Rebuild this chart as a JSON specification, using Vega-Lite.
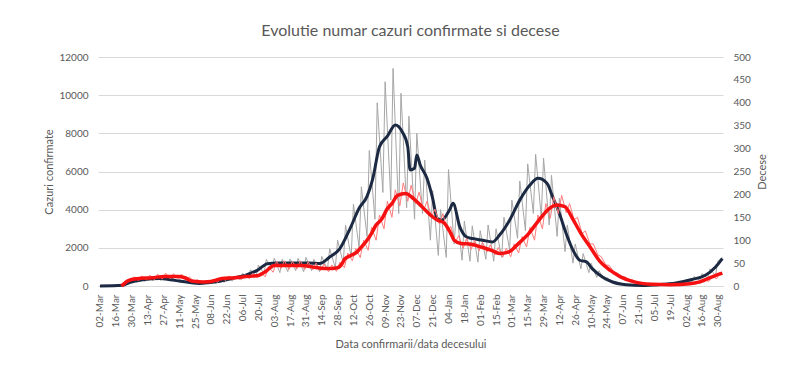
{
  "$schema": "https://vega.github.io/schema/vega-lite/v6.json",
  "width": 625,
  "height": 229,
  "autosize": {"type": "none"},
  "padding": {"left": 98, "top": 57, "right": 77, "bottom": 99},
  "background": "white",
  "title": {"text": "Evolutie numar cazuri confirmate si decese", "font": "Lato", "fontSize": 16, "fontWeight": "normal", "color": "#595959", "offset": 13},
  "config": {
    "view": {"stroke": null},
    "font": "Lato",
    "axis": {"labelFont": "Lato", "titleFont": "Lato", "labelColor": "#595959", "titleColor": "#595959", "labelFontSize": 10, "titleFontSize": 11, "titleFontWeight": "normal", "ticks": false}
  },
  "datasets": {
    "cazuri_zilnice": [
      {"date": "2020-03-02", "value": 3}, {"date": "2020-03-07", "value": 2},
      {"date": "2020-03-09", "value": 15}, {"date": "2020-03-14", "value": 10},
      {"date": "2020-03-16", "value": 40}, {"date": "2020-03-21", "value": 30},
      {"date": "2020-03-23", "value": 60}, {"date": "2020-03-28", "value": 190},
      {"date": "2020-03-30", "value": 310}, {"date": "2020-04-04", "value": 200},
      {"date": "2020-04-06", "value": 380}, {"date": "2020-04-11", "value": 250},
      {"date": "2020-04-13", "value": 430}, {"date": "2020-04-18", "value": 280},
      {"date": "2020-04-20", "value": 450}, {"date": "2020-04-25", "value": 300},
      {"date": "2020-04-27", "value": 460}, {"date": "2020-05-02", "value": 280},
      {"date": "2020-05-04", "value": 420}, {"date": "2020-05-09", "value": 250},
      {"date": "2020-05-11", "value": 330}, {"date": "2020-05-16", "value": 190},
      {"date": "2020-05-18", "value": 250}, {"date": "2020-05-23", "value": 150},
      {"date": "2020-05-25", "value": 200}, {"date": "2020-05-30", "value": 110},
      {"date": "2020-06-01", "value": 180}, {"date": "2020-06-06", "value": 110},
      {"date": "2020-06-08", "value": 230}, {"date": "2020-06-13", "value": 150},
      {"date": "2020-06-15", "value": 300}, {"date": "2020-06-20", "value": 200},
      {"date": "2020-06-22", "value": 400}, {"date": "2020-06-27", "value": 260},
      {"date": "2020-06-29", "value": 500}, {"date": "2020-07-04", "value": 330},
      {"date": "2020-07-06", "value": 660}, {"date": "2020-07-11", "value": 420},
      {"date": "2020-07-13", "value": 850}, {"date": "2020-07-18", "value": 520},
      {"date": "2020-07-20", "value": 1100}, {"date": "2020-07-25", "value": 650},
      {"date": "2020-07-27", "value": 1400}, {"date": "2020-08-01", "value": 900},
      {"date": "2020-08-03", "value": 1450}, {"date": "2020-08-08", "value": 700},
      {"date": "2020-08-10", "value": 1400}, {"date": "2020-08-15", "value": 750},
      {"date": "2020-08-17", "value": 1420}, {"date": "2020-08-22", "value": 800},
      {"date": "2020-08-24", "value": 1450}, {"date": "2020-08-29", "value": 750},
      {"date": "2020-08-31", "value": 1500}, {"date": "2020-09-05", "value": 800},
      {"date": "2020-09-07", "value": 1400}, {"date": "2020-09-12", "value": 750},
      {"date": "2020-09-14", "value": 1550}, {"date": "2020-09-19", "value": 850},
      {"date": "2020-09-21", "value": 1950}, {"date": "2020-09-26", "value": 950},
      {"date": "2020-09-28", "value": 2400}, {"date": "2020-10-03", "value": 1200},
      {"date": "2020-10-05", "value": 3200}, {"date": "2020-10-10", "value": 1500},
      {"date": "2020-10-12", "value": 4300}, {"date": "2020-10-17", "value": 2000},
      {"date": "2020-10-19", "value": 5200}, {"date": "2020-10-24", "value": 2600},
      {"date": "2020-10-26", "value": 7100}, {"date": "2020-10-31", "value": 3500},
      {"date": "2020-11-02", "value": 9600}, {"date": "2020-11-07", "value": 4900},
      {"date": "2020-11-09", "value": 10700}, {"date": "2020-11-14", "value": 4500},
      {"date": "2020-11-16", "value": 11400}, {"date": "2020-11-21", "value": 3800},
      {"date": "2020-11-23", "value": 10100}, {"date": "2020-11-28", "value": 4100},
      {"date": "2020-11-30", "value": 8900}, {"date": "2020-12-05", "value": 3500},
      {"date": "2020-12-07", "value": 8000}, {"date": "2020-12-12", "value": 3800},
      {"date": "2020-12-14", "value": 6600}, {"date": "2020-12-19", "value": 2400},
      {"date": "2020-12-21", "value": 5000}, {"date": "2020-12-26", "value": 1600},
      {"date": "2020-12-28", "value": 4000}, {"date": "2021-01-02", "value": 1500},
      {"date": "2021-01-04", "value": 6100}, {"date": "2021-01-09", "value": 2200},
      {"date": "2021-01-11", "value": 4000}, {"date": "2021-01-16", "value": 1350},
      {"date": "2021-01-18", "value": 3400}, {"date": "2021-01-23", "value": 1300},
      {"date": "2021-01-25", "value": 3150}, {"date": "2021-01-30", "value": 1250},
      {"date": "2021-02-01", "value": 2900}, {"date": "2021-02-06", "value": 1400},
      {"date": "2021-02-08", "value": 3200}, {"date": "2021-02-13", "value": 1300},
      {"date": "2021-02-15", "value": 3000}, {"date": "2021-02-20", "value": 1500},
      {"date": "2021-02-22", "value": 3600}, {"date": "2021-02-27", "value": 1900},
      {"date": "2021-03-01", "value": 4500}, {"date": "2021-03-06", "value": 2500},
      {"date": "2021-03-08", "value": 5500}, {"date": "2021-03-13", "value": 2900},
      {"date": "2021-03-15", "value": 6400}, {"date": "2021-03-20", "value": 3800},
      {"date": "2021-03-22", "value": 6900}, {"date": "2021-03-27", "value": 3600},
      {"date": "2021-03-29", "value": 6700}, {"date": "2021-04-03", "value": 3200},
      {"date": "2021-04-05", "value": 5800}, {"date": "2021-04-10", "value": 2600},
      {"date": "2021-04-12", "value": 4600}, {"date": "2021-04-17", "value": 1800},
      {"date": "2021-04-19", "value": 3200}, {"date": "2021-04-24", "value": 1200},
      {"date": "2021-04-26", "value": 2200}, {"date": "2021-05-01", "value": 900},
      {"date": "2021-05-03", "value": 1700}, {"date": "2021-05-08", "value": 700},
      {"date": "2021-05-10", "value": 1200}, {"date": "2021-05-15", "value": 450},
      {"date": "2021-05-17", "value": 800}, {"date": "2021-05-22", "value": 300},
      {"date": "2021-05-24", "value": 450}, {"date": "2021-05-29", "value": 160},
      {"date": "2021-05-31", "value": 250}, {"date": "2021-06-05", "value": 90},
      {"date": "2021-06-07", "value": 130}, {"date": "2021-06-12", "value": 50},
      {"date": "2021-06-14", "value": 80}, {"date": "2021-06-19", "value": 30},
      {"date": "2021-06-21", "value": 50}, {"date": "2021-06-26", "value": 20},
      {"date": "2021-06-28", "value": 50}, {"date": "2021-07-03", "value": 25},
      {"date": "2021-07-05", "value": 80}, {"date": "2021-07-10", "value": 40},
      {"date": "2021-07-12", "value": 120}, {"date": "2021-07-17", "value": 60},
      {"date": "2021-07-19", "value": 170}, {"date": "2021-07-24", "value": 100},
      {"date": "2021-07-26", "value": 250}, {"date": "2021-07-31", "value": 150},
      {"date": "2021-08-02", "value": 350}, {"date": "2021-08-07", "value": 200},
      {"date": "2021-08-09", "value": 500}, {"date": "2021-08-14", "value": 300},
      {"date": "2021-08-16", "value": 650}, {"date": "2021-08-21", "value": 400},
      {"date": "2021-08-23", "value": 900}, {"date": "2021-08-28", "value": 550},
      {"date": "2021-08-30", "value": 1300}, {"date": "2021-09-03", "value": 1500}
    ],
    "cazuri_medie": [
      {"date": "2020-03-02", "value": 0}, {"date": "2020-03-22", "value": 40},
      {"date": "2020-03-28", "value": 180}, {"date": "2020-04-09", "value": 330},
      {"date": "2020-04-24", "value": 390}, {"date": "2020-05-03", "value": 330},
      {"date": "2020-05-11", "value": 260}, {"date": "2020-05-20", "value": 180},
      {"date": "2020-05-29", "value": 130}, {"date": "2020-06-07", "value": 180},
      {"date": "2020-06-16", "value": 250}, {"date": "2020-06-27", "value": 400},
      {"date": "2020-07-10", "value": 600}, {"date": "2020-07-19", "value": 820},
      {"date": "2020-07-28", "value": 1170}, {"date": "2020-08-05", "value": 1200},
      {"date": "2020-08-17", "value": 1200}, {"date": "2020-09-03", "value": 1200},
      {"date": "2020-09-12", "value": 1180}, {"date": "2020-09-21", "value": 1520},
      {"date": "2020-09-30", "value": 1960}, {"date": "2020-10-09", "value": 3010},
      {"date": "2020-10-17", "value": 4070}, {"date": "2020-10-24", "value": 4700},
      {"date": "2020-10-29", "value": 5600}, {"date": "2020-11-04", "value": 7300},
      {"date": "2020-11-11", "value": 7850}, {"date": "2020-11-18", "value": 8440},
      {"date": "2020-11-24", "value": 8090}, {"date": "2020-11-29", "value": 7300},
      {"date": "2020-12-01", "value": 6080}, {"date": "2020-12-05", "value": 6170},
      {"date": "2020-12-07", "value": 6870}, {"date": "2020-12-10", "value": 6340},
      {"date": "2020-12-16", "value": 5640}, {"date": "2020-12-21", "value": 4590},
      {"date": "2020-12-25", "value": 3540}, {"date": "2020-12-29", "value": 3450},
      {"date": "2021-01-05", "value": 4000}, {"date": "2021-01-08", "value": 4330},
      {"date": "2021-01-14", "value": 3100}, {"date": "2021-01-20", "value": 2570},
      {"date": "2021-01-25", "value": 2490}, {"date": "2021-02-03", "value": 2400},
      {"date": "2021-02-12", "value": 2310}, {"date": "2021-02-18", "value": 2660},
      {"date": "2021-02-27", "value": 3450}, {"date": "2021-03-08", "value": 4500},
      {"date": "2021-03-17", "value": 5290}, {"date": "2021-03-24", "value": 5640},
      {"date": "2021-04-01", "value": 5380}, {"date": "2021-04-06", "value": 4680},
      {"date": "2021-04-12", "value": 3800}, {"date": "2021-04-18", "value": 2750},
      {"date": "2021-04-24", "value": 1880}, {"date": "2021-04-30", "value": 1350},
      {"date": "2021-05-06", "value": 1260}, {"date": "2021-05-11", "value": 910},
      {"date": "2021-05-20", "value": 470}, {"date": "2021-05-29", "value": 210},
      {"date": "2021-06-10", "value": 70}, {"date": "2021-06-24", "value": 30},
      {"date": "2021-07-09", "value": 70}, {"date": "2021-07-24", "value": 160},
      {"date": "2021-08-07", "value": 340}, {"date": "2021-08-19", "value": 560},
      {"date": "2021-08-28", "value": 1000}, {"date": "2021-09-03", "value": 1440}
    ],
    "decese_zilnice": [
      {"date": "2020-03-21", "value": 0}, {"date": "2020-03-25", "value": 6}, {"date": "2020-03-29", "value": 12},
      {"date": "2020-04-01", "value": 20}, {"date": "2020-04-05", "value": 12},
      {"date": "2020-04-08", "value": 22}, {"date": "2020-04-12", "value": 13},
      {"date": "2020-04-15", "value": 24}, {"date": "2020-04-19", "value": 14},
      {"date": "2020-04-22", "value": 26}, {"date": "2020-04-26", "value": 15},
      {"date": "2020-04-29", "value": 28}, {"date": "2020-05-03", "value": 16},
      {"date": "2020-05-06", "value": 27}, {"date": "2020-05-10", "value": 16},
      {"date": "2020-05-13", "value": 26}, {"date": "2020-05-17", "value": 15},
      {"date": "2020-05-20", "value": 20}, {"date": "2020-05-24", "value": 10},
      {"date": "2020-05-27", "value": 14}, {"date": "2020-05-31", "value": 7},
      {"date": "2020-06-03", "value": 12}, {"date": "2020-06-07", "value": 7},
      {"date": "2020-06-10", "value": 14}, {"date": "2020-06-14", "value": 8},
      {"date": "2020-06-17", "value": 20}, {"date": "2020-06-21", "value": 12},
      {"date": "2020-06-24", "value": 22}, {"date": "2020-06-28", "value": 14},
      {"date": "2020-07-01", "value": 23}, {"date": "2020-07-05", "value": 14},
      {"date": "2020-07-08", "value": 25}, {"date": "2020-07-12", "value": 16},
      {"date": "2020-07-15", "value": 28}, {"date": "2020-07-19", "value": 18},
      {"date": "2020-07-22", "value": 30}, {"date": "2020-07-26", "value": 20},
      {"date": "2020-07-29", "value": 42}, {"date": "2020-08-02", "value": 30},
      {"date": "2020-08-05", "value": 54}, {"date": "2020-08-09", "value": 38},
      {"date": "2020-08-12", "value": 55}, {"date": "2020-08-16", "value": 36},
      {"date": "2020-08-19", "value": 54}, {"date": "2020-08-23", "value": 37},
      {"date": "2020-08-26", "value": 55}, {"date": "2020-08-30", "value": 36},
      {"date": "2020-09-02", "value": 53}, {"date": "2020-09-06", "value": 35},
      {"date": "2020-09-09", "value": 50}, {"date": "2020-09-13", "value": 33},
      {"date": "2020-09-16", "value": 48}, {"date": "2020-09-20", "value": 31},
      {"date": "2020-09-23", "value": 46}, {"date": "2020-09-27", "value": 32},
      {"date": "2020-09-30", "value": 52}, {"date": "2020-10-04", "value": 40},
      {"date": "2020-10-07", "value": 72}, {"date": "2020-10-11", "value": 55},
      {"date": "2020-10-14", "value": 82}, {"date": "2020-10-18", "value": 62},
      {"date": "2020-10-21", "value": 100}, {"date": "2020-10-25", "value": 78},
      {"date": "2020-10-28", "value": 128}, {"date": "2020-11-01", "value": 100},
      {"date": "2020-11-04", "value": 155}, {"date": "2020-11-08", "value": 125},
      {"date": "2020-11-11", "value": 185}, {"date": "2020-11-15", "value": 150},
      {"date": "2020-11-18", "value": 210}, {"date": "2020-11-22", "value": 175},
      {"date": "2020-11-25", "value": 225}, {"date": "2020-11-29", "value": 185},
      {"date": "2020-12-02", "value": 220}, {"date": "2020-12-06", "value": 180},
      {"date": "2020-12-09", "value": 205}, {"date": "2020-12-13", "value": 165},
      {"date": "2020-12-16", "value": 185}, {"date": "2020-12-20", "value": 150},
      {"date": "2020-12-23", "value": 168}, {"date": "2020-12-27", "value": 135},
      {"date": "2020-12-30", "value": 158}, {"date": "2021-01-03", "value": 120},
      {"date": "2021-01-06", "value": 130}, {"date": "2021-01-10", "value": 95},
      {"date": "2021-01-13", "value": 110}, {"date": "2021-01-17", "value": 82},
      {"date": "2021-01-20", "value": 104}, {"date": "2021-01-24", "value": 80},
      {"date": "2021-01-27", "value": 100}, {"date": "2021-01-31", "value": 77},
      {"date": "2021-02-03", "value": 96}, {"date": "2021-02-07", "value": 74},
      {"date": "2021-02-10", "value": 90}, {"date": "2021-02-14", "value": 68},
      {"date": "2021-02-17", "value": 84}, {"date": "2021-02-21", "value": 63},
      {"date": "2021-02-24", "value": 82}, {"date": "2021-02-28", "value": 64},
      {"date": "2021-03-03", "value": 92}, {"date": "2021-03-07", "value": 72},
      {"date": "2021-03-10", "value": 108}, {"date": "2021-03-14", "value": 85},
      {"date": "2021-03-17", "value": 128}, {"date": "2021-03-21", "value": 100},
      {"date": "2021-03-24", "value": 155}, {"date": "2021-03-28", "value": 125},
      {"date": "2021-03-31", "value": 180}, {"date": "2021-04-04", "value": 148},
      {"date": "2021-04-07", "value": 195}, {"date": "2021-04-11", "value": 158},
      {"date": "2021-04-14", "value": 198}, {"date": "2021-04-18", "value": 160},
      {"date": "2021-04-21", "value": 180}, {"date": "2021-04-25", "value": 145},
      {"date": "2021-04-28", "value": 150}, {"date": "2021-05-02", "value": 115},
      {"date": "2021-05-05", "value": 120}, {"date": "2021-05-09", "value": 92},
      {"date": "2021-05-12", "value": 92}, {"date": "2021-05-16", "value": 68},
      {"date": "2021-05-19", "value": 64}, {"date": "2021-05-23", "value": 46},
      {"date": "2021-05-26", "value": 45}, {"date": "2021-05-30", "value": 31},
      {"date": "2021-06-02", "value": 29}, {"date": "2021-06-06", "value": 19},
      {"date": "2021-06-09", "value": 20}, {"date": "2021-06-13", "value": 13},
      {"date": "2021-06-16", "value": 13}, {"date": "2021-06-20", "value": 8},
      {"date": "2021-06-23", "value": 8}, {"date": "2021-06-27", "value": 5},
      {"date": "2021-06-30", "value": 6}, {"date": "2021-07-04", "value": 3},
      {"date": "2021-07-07", "value": 5}, {"date": "2021-07-11", "value": 3},
      {"date": "2021-07-14", "value": 4}, {"date": "2021-07-18", "value": 2},
      {"date": "2021-07-21", "value": 4}, {"date": "2021-07-25", "value": 2},
      {"date": "2021-07-28", "value": 5}, {"date": "2021-08-01", "value": 3},
      {"date": "2021-08-04", "value": 6}, {"date": "2021-08-08", "value": 4},
      {"date": "2021-08-11", "value": 9}, {"date": "2021-08-15", "value": 6},
      {"date": "2021-08-18", "value": 14}, {"date": "2021-08-22", "value": 10},
      {"date": "2021-08-25", "value": 21}, {"date": "2021-08-29", "value": 16},
      {"date": "2021-09-01", "value": 29}, {"date": "2021-09-03", "value": 26}
    ],
    "decese_medie": [
      {"date": "2020-03-21", "value": 0}, {"date": "2020-03-27", "value": 12},
      {"date": "2020-04-04", "value": 16}, {"date": "2020-04-17", "value": 18},
      {"date": "2020-04-28", "value": 21}, {"date": "2020-05-10", "value": 21},
      {"date": "2020-05-16", "value": 18}, {"date": "2020-05-22", "value": 11},
      {"date": "2020-06-02", "value": 9}, {"date": "2020-06-08", "value": 10},
      {"date": "2020-06-17", "value": 16}, {"date": "2020-06-29", "value": 18},
      {"date": "2020-07-11", "value": 21}, {"date": "2020-07-20", "value": 23},
      {"date": "2020-07-26", "value": 31}, {"date": "2020-08-03", "value": 45},
      {"date": "2020-08-12", "value": 45}, {"date": "2020-08-27", "value": 45},
      {"date": "2020-09-10", "value": 40}, {"date": "2020-09-19", "value": 38},
      {"date": "2020-09-28", "value": 40}, {"date": "2020-10-02", "value": 49},
      {"date": "2020-10-04", "value": 58}, {"date": "2020-10-10", "value": 67},
      {"date": "2020-10-15", "value": 74}, {"date": "2020-10-19", "value": 85},
      {"date": "2020-10-24", "value": 100}, {"date": "2020-10-28", "value": 115},
      {"date": "2020-11-01", "value": 133}, {"date": "2020-11-06", "value": 146},
      {"date": "2020-11-11", "value": 169}, {"date": "2020-11-15", "value": 180},
      {"date": "2020-11-20", "value": 198}, {"date": "2020-11-27", "value": 202},
      {"date": "2020-12-04", "value": 191}, {"date": "2020-12-10", "value": 177},
      {"date": "2020-12-19", "value": 155}, {"date": "2020-12-25", "value": 144},
      {"date": "2020-12-31", "value": 138}, {"date": "2021-01-06", "value": 115},
      {"date": "2021-01-09", "value": 100}, {"date": "2021-01-15", "value": 93},
      {"date": "2021-01-24", "value": 91}, {"date": "2021-02-02", "value": 85},
      {"date": "2021-02-11", "value": 78}, {"date": "2021-02-18", "value": 71},
      {"date": "2021-02-26", "value": 74}, {"date": "2021-03-07", "value": 93},
      {"date": "2021-03-16", "value": 115}, {"date": "2021-03-25", "value": 144},
      {"date": "2021-04-03", "value": 169}, {"date": "2021-04-10", "value": 177},
      {"date": "2021-04-17", "value": 173}, {"date": "2021-04-23", "value": 150},
      {"date": "2021-05-01", "value": 115}, {"date": "2021-05-10", "value": 82},
      {"date": "2021-05-18", "value": 53}, {"date": "2021-05-27", "value": 34},
      {"date": "2021-06-05", "value": 20}, {"date": "2021-06-17", "value": 9},
      {"date": "2021-07-02", "value": 4}, {"date": "2021-07-19", "value": 3},
      {"date": "2021-08-05", "value": 5}, {"date": "2021-08-14", "value": 9},
      {"date": "2021-08-25", "value": 20}, {"date": "2021-09-03", "value": 28}
    ]
  },
  "encoding": {
    "x": {
      "field": "date", "type": "temporal",
      "scale": {"type": "utc", "domain": [{"year": 2020, "month": 2, "date": 29, "hours": 6, "utc": true}, {"year": 2021, "month": 9, "date": 3, "hours": 14, "utc": true}]},
      "axis": {
        "values": [
          {"year": 2020, "month": 3, "date": 2, "utc": true}, {"year": 2020, "month": 3, "date": 16, "utc": true}, {"year": 2020, "month": 3, "date": 30, "utc": true},
          {"year": 2020, "month": 4, "date": 13, "utc": true}, {"year": 2020, "month": 4, "date": 27, "utc": true}, {"year": 2020, "month": 5, "date": 11, "utc": true},
          {"year": 2020, "month": 5, "date": 25, "utc": true}, {"year": 2020, "month": 6, "date": 8, "utc": true}, {"year": 2020, "month": 6, "date": 22, "utc": true},
          {"year": 2020, "month": 7, "date": 6, "utc": true}, {"year": 2020, "month": 7, "date": 20, "utc": true}, {"year": 2020, "month": 8, "date": 3, "utc": true},
          {"year": 2020, "month": 8, "date": 17, "utc": true}, {"year": 2020, "month": 8, "date": 31, "utc": true}, {"year": 2020, "month": 9, "date": 14, "utc": true},
          {"year": 2020, "month": 9, "date": 28, "utc": true}, {"year": 2020, "month": 10, "date": 12, "utc": true}, {"year": 2020, "month": 10, "date": 26, "utc": true},
          {"year": 2020, "month": 11, "date": 9, "utc": true}, {"year": 2020, "month": 11, "date": 23, "utc": true}, {"year": 2020, "month": 12, "date": 7, "utc": true},
          {"year": 2020, "month": 12, "date": 21, "utc": true}, {"year": 2021, "month": 1, "date": 4, "utc": true}, {"year": 2021, "month": 1, "date": 18, "utc": true},
          {"year": 2021, "month": 2, "date": 1, "utc": true}, {"year": 2021, "month": 2, "date": 15, "utc": true}, {"year": 2021, "month": 3, "date": 1, "utc": true},
          {"year": 2021, "month": 3, "date": 15, "utc": true}, {"year": 2021, "month": 3, "date": 29, "utc": true}, {"year": 2021, "month": 4, "date": 12, "utc": true},
          {"year": 2021, "month": 4, "date": 26, "utc": true}, {"year": 2021, "month": 5, "date": 10, "utc": true}, {"year": 2021, "month": 5, "date": 24, "utc": true},
          {"year": 2021, "month": 6, "date": 7, "utc": true}, {"year": 2021, "month": 6, "date": 21, "utc": true}, {"year": 2021, "month": 7, "date": 5, "utc": true},
          {"year": 2021, "month": 7, "date": 19, "utc": true}, {"year": 2021, "month": 8, "date": 2, "utc": true}, {"year": 2021, "month": 8, "date": 16, "utc": true},
          {"year": 2021, "month": 8, "date": 30, "utc": true}
        ],
        "format": "%d-%b", "labelAngle": -90, "labelPadding": 8, "labelOverlap": false,
        "grid": false, "domain": true, "domainColor": "#d9d9d9", "domainWidth": 1,
        "title": "Data confirmarii/data decesului", "titlePadding": 10
      }
    }
  },
  "layer": [
    {
      "encoding": {
        "y": {
          "field": "value", "type": "quantitative",
          "scale": {"domain": [0, 12000]},
          "axis": {"values": [0, 2000, 4000, 6000, 8000, 10000, 12000], "format": "d", "title": "Cazuri confirmate", "grid": true, "gridColor": "#d9d9d9", "domain": false, "labelPadding": 10, "titlePadding": 4}
        }
      },
      "layer": [
        {"data": {"name": "cazuri_zilnice"}, "mark": {"type": "line", "color": "#a6a6a6", "strokeWidth": 1}},
        {"data": {"name": "cazuri_medie"}, "mark": {"type": "line", "color": "#1c2942", "strokeWidth": 3, "interpolate": "monotone"}}
      ]
    },
    {
      "encoding": {
        "y": {
          "field": "value", "type": "quantitative",
          "scale": {"domain": [0, 500]},
          "axis": {"orient": "right", "values": [0, 50, 100, 150, 200, 250, 300, 350, 400, 450, 500], "format": "d", "title": "Decese", "titleAngle": 270, "titleBaseline": "top", "grid": false, "domain": false, "labelPadding": 10, "titlePadding": 6}
        }
      },
      "layer": [
        {"data": {"name": "decese_zilnice"}, "mark": {"type": "line", "color": "#ff7a7a", "strokeWidth": 1}},
        {"data": {"name": "decese_medie"}, "mark": {"type": "line", "color": "#f51111", "strokeWidth": 3.5, "interpolate": "monotone"}}
      ]
    }
  ],
  "resolve": {"scale": {"y": "independent"}}
}
